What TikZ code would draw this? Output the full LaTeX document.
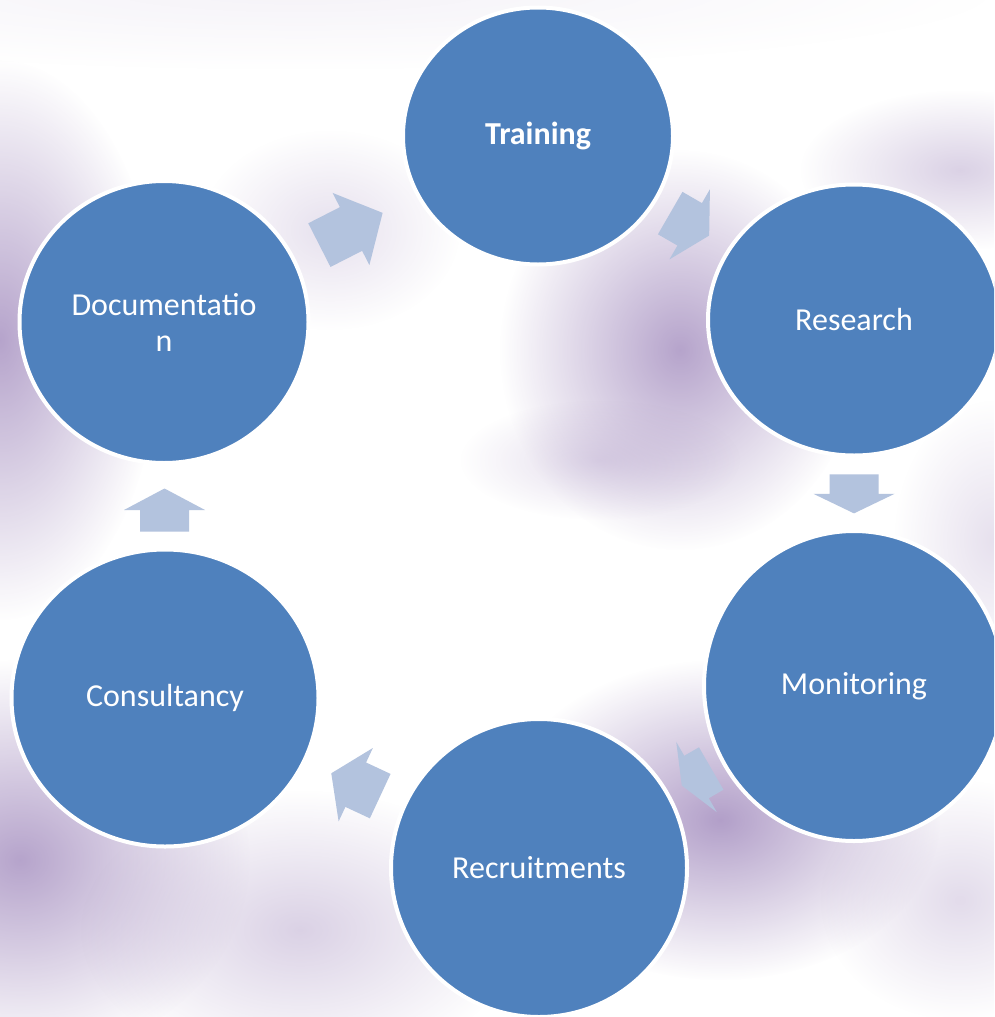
\documentclass[tikz,border=0pt]{standalone}
\usepackage{fontspec}
\setmainfont{Carlito}
\usetikzlibrary{shapes.geometric,calc,fadings}
\definecolor{stagefill}{HTML}{4F81BD}
\definecolor{arrowfill}{HTML}{B3C3DE}
\definecolor{haze}{HTML}{AE9AC6}
\tikzfading[name=blob, inner color=transparent!0, outer color=transparent!100]
\tikzset{
  pics/cycarrow/.style={code={
    \fill[arrowfill] (-#1,-24.5) -- (0,-24.5) -- (0,-40.5) -- (#1,0)
      -- (0,40.5) -- (0,24.5) -- (-#1,24.5) -- cycle;}}
}
\begin{document}
\begin{tikzpicture}[x=1pt,y=1pt,
    stage/.style={ellipse, draw=white, line width=4pt, fill=stagefill, text=white,
      font=\fontsize{32}{36}\selectfont, align=center, inner sep=0pt},
    glow/.style={haze, path fading=blob}]
  \useasboundingbox (0,0) rectangle (994,-1017);
  \clip (0,0) rectangle (994,-1017);
  \fill[white] (0,0) rectangle (994,-1017);
  \fill[glow, opacity=.12] (300,10) ellipse (700 and 80);
  \fill[glow, opacity=.9] (0,-340) ellipse (160 and 280);
  \fill[glow, opacity=.3] (330,-230) ellipse (130 and 100);
  \fill[glow, opacity=.9] (680,-350) ellipse (180 and 200);
  \fill[glow, opacity=.35] (600,-460) ellipse (140 and 60);
  \fill[glow, opacity=.45] (960,-170) ellipse (160 and 80);
  \fill[glow, opacity=.3] (994,-540) ellipse (100 and 140);
  \fill[glow, opacity=.95] (720,-820) ellipse (220 and 160);
  \fill[glow, opacity=.35] (960,-900) ellipse (140 and 120);
  \fill[glow, opacity=.9] (20,-860) ellipse (230 and 200);
  \fill[glow, opacity=.45] (300,-930) ellipse (220 and 140);

  \node[stage, minimum width=270, minimum height=257] (train) at (538,-136) {\bfseries Training};
  \node[stage, minimum width=292, minimum height=271] (res) at (854,-320) {Research};
  \node[stage, minimum width=300, minimum height=310] (mon) at (854,-686) {Monitoring};
  \node[stage, minimum width=296, minimum height=298] (rec) at (539,-868) {Recruitments};
  \node[stage, minimum width=307, minimum height=297] (cons) at (165,-698) {Consultancy};
  \node[stage, minimum width=289, minimum height=282] (doc) at (164,-322) {Documentatio\\n};

  \pic[rotate=27] at ($(doc)!0.5!(train)$) {cycarrow=35.5};
  \pic[rotate=-30] at ($(train)!0.48!(res)$) {cycarrow=22.5};
  \pic[rotate=-90] at ($(res)!0.475!(mon)$) {cycarrow=19.5};
  \pic[rotate=210] at ($(mon)!0.5!(rec)$) {cycarrow=17};
  \pic[rotate=155] at ($(rec)!0.49!(cons)$) {cycarrow=27};
  \pic[rotate=90] at ($(cons)!0.5!(doc)$) {cycarrow=21.5};
\end{tikzpicture}
\end{document}
